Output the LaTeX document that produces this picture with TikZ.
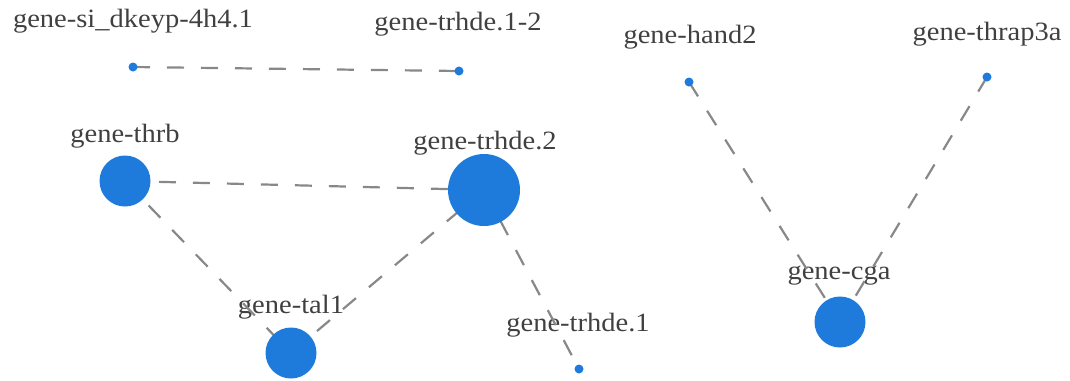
\documentclass[tikz,border=0pt]{standalone}
\usepackage{fontspec}
\setmainfont[FakeStretch=1.08]{Liberation Serif}
\definecolor{nodeblue}{RGB}{30,123,220}
\definecolor{edgegray}{RGB}{136,136,136}
\begin{document}
\begin{tikzpicture}[x=1bp,y=-1bp,
  lbl/.style={text=black!75,font=\fontsize{26.5}{26.5}\selectfont,inner sep=0pt,anchor=center},
  big/.style={circle,fill=nodeblue,inner sep=0pt,minimum size=#1},
  edge/.style={draw=edgegray,line width=2.2bp,dash pattern=on 17bp off 17bp}]
\useasboundingbox (0,0) rectangle (1070,380);
% labels
\node[lbl] (lsi) at (133,21) {gene-si\_dkeyp-4h4.1};
\node[lbl] (ltr12) at (458,24) {gene-trhde.1-2};
\node[lbl] (lhand) at (690,37) {gene-hand2};
\node[lbl] (lthrap) at (987,34) {gene-thrap3a};
\node[lbl] (lthrb) at (125,136) {gene-thrb};
\node[lbl] (ltr2) at (485,143) {gene-trhde.2};
\node[lbl] (ltal) at (291,307) {gene-tal1};
\node[lbl] (ltr1) at (578,325) {gene-trhde.1};
\node[lbl] (lcga) at (839,276) {gene-cga};
% node positions
\coordinate (si) at (133,67);
\coordinate (tr12) at (459,71);
\coordinate (hand) at (689,82);
\coordinate (thrap) at (987,77);
\coordinate (thrb) at (125,181);
\coordinate (tr2) at (484,190);
\coordinate (tal) at (291,353);
\coordinate (tr1) at (579,369);
\coordinate (cga) at (840,322);
% edges
\draw[edge] (si) -- (tr12);
\draw[edge] (thrb) -- (tr2);
\draw[edge] (thrb) -- (tal);
\draw[edge] (tal) -- (tr2);
\draw[edge] (tr2) -- (tr1);
\draw[edge] (hand) -- (cga);
\draw[edge] (thrap) -- (cga);
% nodes
\node[big=9bp] (nsi) at (si) {};
\node[big=9bp] (ntr12) at (tr12) {};
\node[big=9bp] (nhand) at (hand) {};
\node[big=9bp] (nthrap) at (thrap) {};
\node[big=9bp] (ntr1) at (tr1) {};
\node[big=51bp] (nthrb) at (thrb) {};
\node[big=72bp] (ntr2) at (tr2) {};
\node[big=51bp] (ntal) at (tal) {};
\node[big=51bp] (ncga) at (cga) {};
\end{tikzpicture}
\end{document}
